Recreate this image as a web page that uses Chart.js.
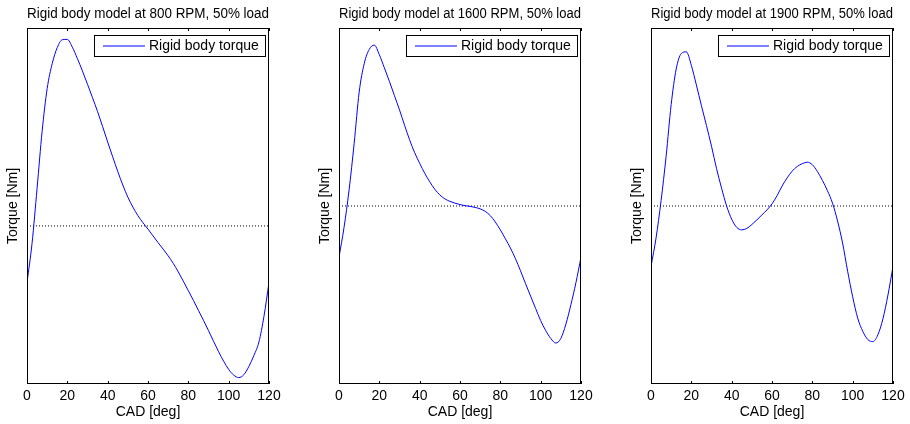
<!DOCTYPE html>
<html>
<head>
<meta charset="utf-8">
<script src="https://cdn.jsdelivr.net/npm/chart.js@4/dist/chart.umd.min.js"></script>
<style>
  html, body { margin: 0; padding: 0; background: #fff; overflow: hidden; }
  body { width: 910px; height: 424px; position: relative; }
  .panel { position: absolute; top: 0; width: 283px; height: 424px; }
</style>
</head>
<body>
<div class="panel" style="left:0px"><canvas id="c800"></canvas></div>
<div class="panel" style="left:312px"><canvas id="c1600"></canvas></div>
<div class="panel" style="left:624px"><canvas id="c1900"></canvas></div>
<script>
// crank angle samples (deg)
const cad = [
  0, 2.5, 5, 7.5, 10, 12.5, 15, 17.5, 20, 22.5, 25, 27.5, 30, 32.5, 35, 37.5,
  40, 42.5, 45, 47.5, 50, 52.5, 55, 57.5, 60, 62.5, 65, 67.5, 70, 72.5, 75, 77.5,
  80, 82.5, 85, 87.5, 90, 92.5, 95, 97.5, 100, 102.5, 105, 107.5, 110, 112.5, 115, 117.5, 120
];

// torque, axis units (no tick values shown on the original)
const torque800 = [
  28.5, 39.5, 55, 71, 83, 90, 94.5, 96.7, 96.8, 94.6, 91.4, 87.9, 84.2, 80.4, 76.5, 72.3,
  68, 63.8, 59.7, 55.9, 52.5, 49.7, 47.3, 45.3, 43.5, 41.6, 39.7, 37.9, 36, 33.9, 31.5, 28.9,
  26.2, 23.5, 20.7, 17.9, 15, 12, 9.1, 6.4, 4.1, 2.5, 1.8, 2.6, 4.9, 8, 11.8, 19, 28.5
];
const torque1600 = [
  35.6, 44, 54.5, 67.5, 82, 90, 94, 95.2, 92.5, 88.8, 85, 81, 77, 72.7, 68.6, 65,
  62, 59.2, 56.8, 54.7, 53.1, 52, 51.3, 50.8, 50.4, 50.1, 49.9, 49.6, 49.2, 48.5, 47.3, 45.5,
  43.3, 40.8, 38.2, 35.2, 31.8, 28.2, 24.7, 21.2, 17.8, 15, 12.8, 11.5, 12.8, 16.8, 22.3, 28.5, 35.6
];
const torque1900 = [
  33, 41, 51.5, 64, 78.5, 88.5, 92.8, 93.3, 89.5, 84, 78.2, 72.6, 66.8, 60.5, 55, 50,
  46.3, 44, 43.3, 43.7, 44.8, 46.1, 47.5, 48.9, 50.6, 52.9, 55.6, 57.9, 59.8, 61.1, 61.9, 62.3,
  61.6, 59.7, 57.2, 54.3, 50.8, 45.8, 39.6, 31.7, 24.5, 18.5, 14.8, 12.5, 11.9, 13.8, 18.3, 25, 33
];

// mean torque level (dotted line)
const meanLevels = [44.4, 50.0, 50.0];

const rpms = [800, 1600, 1900];
const xTicks = [0, 20, 40, 60, 80, 100, 120];

const FONT = '"Liberation Sans", Arial, Helvetica, sans-serif';

// box around the axes plus inward ticks on top and bottom, and a Matlab style legend
const framePlugin = {
  id: 'frame',
  afterDatasetsDraw(chart) {
    const { ctx, chartArea: a } = chart;
    const xs = chart.scales.x;
    ctx.save();
    ctx.strokeStyle = '#000';
    ctx.lineWidth = 1;
    ctx.strokeRect(a.left + 0.5, a.top + 0.5, a.right - a.left - 1, a.bottom - a.top - 1);
    ctx.beginPath();
    xTicks.forEach((t) => {
      const px = Math.round(xs.getPixelForValue(t)) + 0.5;
      ctx.moveTo(px, a.bottom);
      ctx.lineTo(px, a.bottom - 3);
      ctx.moveTo(px, a.top);
      ctx.lineTo(px, a.top + 3);
    });
    ctx.stroke();

    // legend
    const ds = chart.data.datasets[0];
    ctx.font = '14px ' + FONT;
    const tw = ctx.measureText(ds.label).width;
    const w = Math.round(55 + tw + 6);
    const h = 21;
    const right = a.right - 4;
    const left = right - w;
    const top = a.top + 7;
    ctx.fillStyle = '#fff';
    ctx.fillRect(left, top, w, h);
    ctx.strokeRect(left + 0.5, top + 0.5, w, h);
    ctx.strokeStyle = ds.borderColor;
    ctx.beginPath();
    ctx.moveTo(left + 9, top + 11);
    ctx.lineTo(left + 51, top + 11);
    ctx.stroke();
    ctx.fillStyle = '#000';
    ctx.textBaseline = 'middle';
    ctx.fillText(ds.label, left + 55, top + 11.5);
    ctx.restore();
  }
};

const makeChart = (id, rpm, values, mean) => {
  const pts = cad.map((x, i) => ({ x, y: values[i] }));
  return new Chart(document.getElementById(id), {
    type: 'line',
    data: {
      datasets: [
        {
          label: 'Rigid body torque',
          data: pts,
          borderColor: '#0000ff',
          borderWidth: 1,
          pointRadius: 0,
          cubicInterpolationMode: 'monotone',
          fill: false,
        },
        {
          label: 'mean',
          data: [{ x: 0, y: mean }, { x: 120, y: mean }],
          borderColor: '#000',
          borderWidth: 1,
          borderDash: [1, 2],
          pointRadius: 0,
          fill: false,
        },
      ],
    },
    options: {
      responsive: false,
      animation: false,
      devicePixelRatio: 1,
      layout: { padding: { left: 0, right: 14, top: 0, bottom: 0 } },
      plugins: {
        legend: { display: false },
        tooltip: { enabled: false },
        title: {
          display: true,
          text: `Rigid body model at ${rpm} RPM, 50% load`,
          color: '#000',
          fullSize: false,
          font: { family: FONT, size: 14, weight: 'normal' },
          padding: { top: 5.6, bottom: 5.6 },
        },
      },
      scales: {
        x: {
          type: 'linear',
          min: 0,
          max: 120,
          afterBuildTicks: (s) => { s.ticks = xTicks.map((v) => ({ value: v })); },
          afterFit: (s) => { s.height = 40; s.paddingLeft = 0; s.paddingRight = 0; },
          grid: { display: false, drawTicks: false },
          border: { display: false },
          ticks: { color: '#000', padding: 4, maxRotation: 0, font: { family: FONT, size: 14 } },
          title: {
            display: true,
            text: 'CAD [deg]',
            color: '#000',
            font: { family: FONT, size: 14 },
            padding: { top: 0, bottom: 3.6 },
          },
        },
        y: {
          min: 0,
          max: 100,
          afterFit: (s) => { s.width = 27; },
          grid: { display: false, drawTicks: false },
          border: { display: false },
          ticks: { display: false },
          title: {
            display: true,
            text: 'Torque [Nm]',
            color: '#000',
            font: { family: FONT, size: 14 },
            padding: { top: 5, bottom: 0 },
          },
        },
      },
    },
    plugins: [framePlugin],
  });
};

['c800', 'c1600', 'c1900'].forEach((id) => {
  const c = document.getElementById(id);
  c.width = 283;
  c.height = 424;
});

makeChart('c800', rpms[0], torque800, meanLevels[0]);
makeChart('c1600', rpms[1], torque1600, meanLevels[1]);
makeChart('c1900', rpms[2], torque1900, meanLevels[2]);
</script>
</body>
</html>
